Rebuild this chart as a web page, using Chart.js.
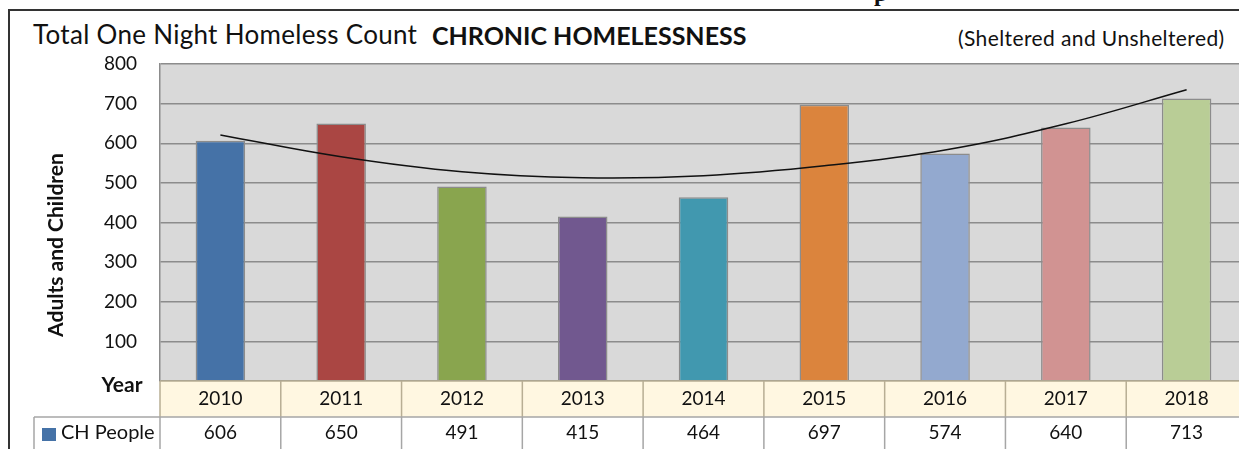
<!DOCTYPE html>
<html lang="en">
<head>
    <meta charset="UTF-8">
    <title>Chronic Homelessness</title>
    <script src="https://cdn.jsdelivr.net/npm/chart.js"></script>
    <style>
        body {
            margin: 0;
            width: 1239px;
            height: 449px;
            overflow: hidden;
            background: #fff;
            font-family: 'Lato', sans-serif;
            position: relative;
        }
        .frame {
            position: absolute;
            left: 8px;
            top: 9px;
            right: -5px;
            bottom: -5px;
            border-left: 2px solid #333;
            border-top: 2px solid #333;
        }
        .cut {
            position: absolute;
            left: 874px;
            top: -20px;
            font-family: 'Liberation Serif', serif;
            font-weight: bold;
            font-size: 24px;
            color: #111;
        }
        .title, .title2, .sub {
            position: absolute;
            line-height: 1.2;
            color: #111;
            white-space: nowrap;
        }
        .title {
            left: 33px;
            top: 19px;
            font-size: 26px;
            letter-spacing: 0.3px;
        }
        .title2 {
            left: 432px;
            top: 20px;
            font-size: 25px;
            font-weight: bold;
        }
        .sub {
            left: 958px;
            top: 25px;
            font-size: 21px;
            letter-spacing: 0.4px;
        }
        canvas {
            position: absolute;
            left: 0;
            top: 0;
        }
    </style>
</head>
<body>
    <div class="cut">p</div>
    <div class="frame"></div>
    <div class="title">Total One Night Homeless Count</div>
    <div class="title2">CHRONIC HOMELESSNESS</div>
    <div class="sub">(Sheltered and Unsheltered)</div>
    <canvas id="chChart" width="1247" height="449"></canvas>

    <script>
        // datos
        const years = ['2010', '2011', '2012', '2013', '2014', '2015', '2016', '2017', '2018'];
        const chPeople = [606, 650, 491, 415, 464, 697, 574, 640, 713];
        const trendLine = [621, 566, 528, 513, 518, 543, 583, 649, 735];
        const barColors = ['#4572A7', '#AA4643', '#89A54E', '#71588F', '#4198AF',
                           '#DB843D', '#93A9CF', '#D19392', '#B9CD96'];
        const yTicks = [0, 100, 200, 300, 400, 500, 600, 700, 800];

        // fondo gris del area y tabla de datos debajo
        const tablePlugin = {
            id: 'tablePlugin',
            beforeDraw(chart) {
                const a = chart.chartArea;
                const ctx = chart.ctx;
                ctx.save();
                ctx.fillStyle = '#D9D9D9';
                ctx.fillRect(a.left, a.top, chart.width - a.left, a.bottom - a.top);
                ctx.restore();
            },
            afterDraw(chart) {
                const a = chart.chartArea;
                const x = chart.scales.x;
                const ctx = chart.ctx;
                const rowTop = a.bottom;
                const rowMid = 417;
                const rowBot = 470;
                const half = (x.getPixelForValue(1) - x.getPixelForValue(0)) / 2;
                ctx.save();

                // fila de años
                ctx.fillStyle = '#FFF7E1';
                ctx.fillRect(a.left, rowTop, chart.width - a.left, rowMid - rowTop);
                ctx.fillStyle = '#fff';
                ctx.fillRect(34, rowMid, chart.width - 34, rowBot - rowMid);

                ctx.strokeStyle = '#B8AE94';
                ctx.lineWidth = 1.5;
                ctx.beginPath();
                ctx.moveTo(a.left, rowTop);
                ctx.lineTo(chart.width, rowTop);
                ctx.moveTo(a.left, rowTop);
                ctx.lineTo(a.left, rowMid);
                years.forEach((y, i) => {
                    const bx = x.getPixelForValue(i) + half;
                    ctx.moveTo(bx, rowTop);
                    ctx.lineTo(bx, rowMid);
                });
                ctx.stroke();

                ctx.strokeStyle = '#A6A6A6';
                ctx.beginPath();
                ctx.moveTo(34, rowMid);
                ctx.lineTo(chart.width, rowMid);
                ctx.moveTo(34, rowMid);
                ctx.lineTo(34, rowBot);
                ctx.moveTo(a.left, rowMid);
                ctx.lineTo(a.left, rowBot);
                years.forEach((y, i) => {
                    const bx = x.getPixelForValue(i) + half;
                    ctx.moveTo(bx, rowMid);
                    ctx.lineTo(bx, rowBot);
                });
                ctx.stroke();

                ctx.fillStyle = '#111';
                ctx.font = '19px Lato';
                ctx.textAlign = 'center';
                ctx.textBaseline = 'middle';
                years.forEach((y, i) => {
                    const cx = x.getPixelForValue(i);
                    ctx.fillText(y, cx, 399);
                    ctx.fillText(String(chPeople[i]), cx, 433);
                });

                // leyenda
                ctx.fillStyle = barColors[0];
                ctx.fillRect(42, 428, 14, 13);
                ctx.fillStyle = '#111';
                ctx.textAlign = 'left';
                ctx.font = '20px Lato';
                ctx.fillText('CH People', 61, 433);

                // "Year" y titulo del eje
                ctx.font = 'bold 21px Lato';
                ctx.textAlign = 'center';
                ctx.fillText('Year', 122, 385);

                ctx.translate(56, 245);
                ctx.rotate(-Math.PI / 2);
                ctx.font = 'bold 21px Lato';
                ctx.fillText('Adults and Children', 0, 0);
                ctx.restore();
            }
        };

        const ctx = document.getElementById('chChart').getContext('2d');
        const chChart = new Chart(ctx, {
            type: 'bar',
            data: {
                labels: years,
                datasets: [{
                    type: 'line',
                    label: 'Trend',
                    data: trendLine,
                    borderColor: '#111',
                    borderWidth: 1.5,
                    pointRadius: 0,
                    tension: 0.4,
                    fill: false,
                    order: 0
                }, {
                    label: 'CH People',
                    data: chPeople,
                    backgroundColor: barColors,
                    borderColor: '#8C8C8C',
                    borderWidth: 1.5,
                    categoryPercentage: 1,
                    barPercentage: 0.41,
                    order: 1
                }]
            },
            options: {
                responsive: false,
                animation: false,
                layout: {
                    padding: { top: 64, bottom: 68, left: 0, right: 0 }
                },
                plugins: {
                    legend: { display: false },
                    tooltip: { enabled: false }
                },
                scales: {
                    x: {
                        display: false
                    },
                    y: {
                        min: 0,
                        max: 800,
                        afterFit(scale) { scale.width = 160; },
                        afterBuildTicks(scale) {
                            scale.ticks = yTicks.map(v => ({ value: v }));
                        },
                        ticks: {
                            padding: 23,
                            color: '#111',
                            font: { family: 'Lato', size: 19 },
                            callback: v => (v === 0 ? '' : v)
                        },
                        grid: {
                            color: '#8C8C8C',
                            lineWidth: 1.5,
                            drawTicks: false
                        },
                        border: { display: true, color: '#8C8C8C', width: 1.5 }
                    }
                }
            },
            plugins: [tablePlugin]
        });
    </script>
</body>
</html>
